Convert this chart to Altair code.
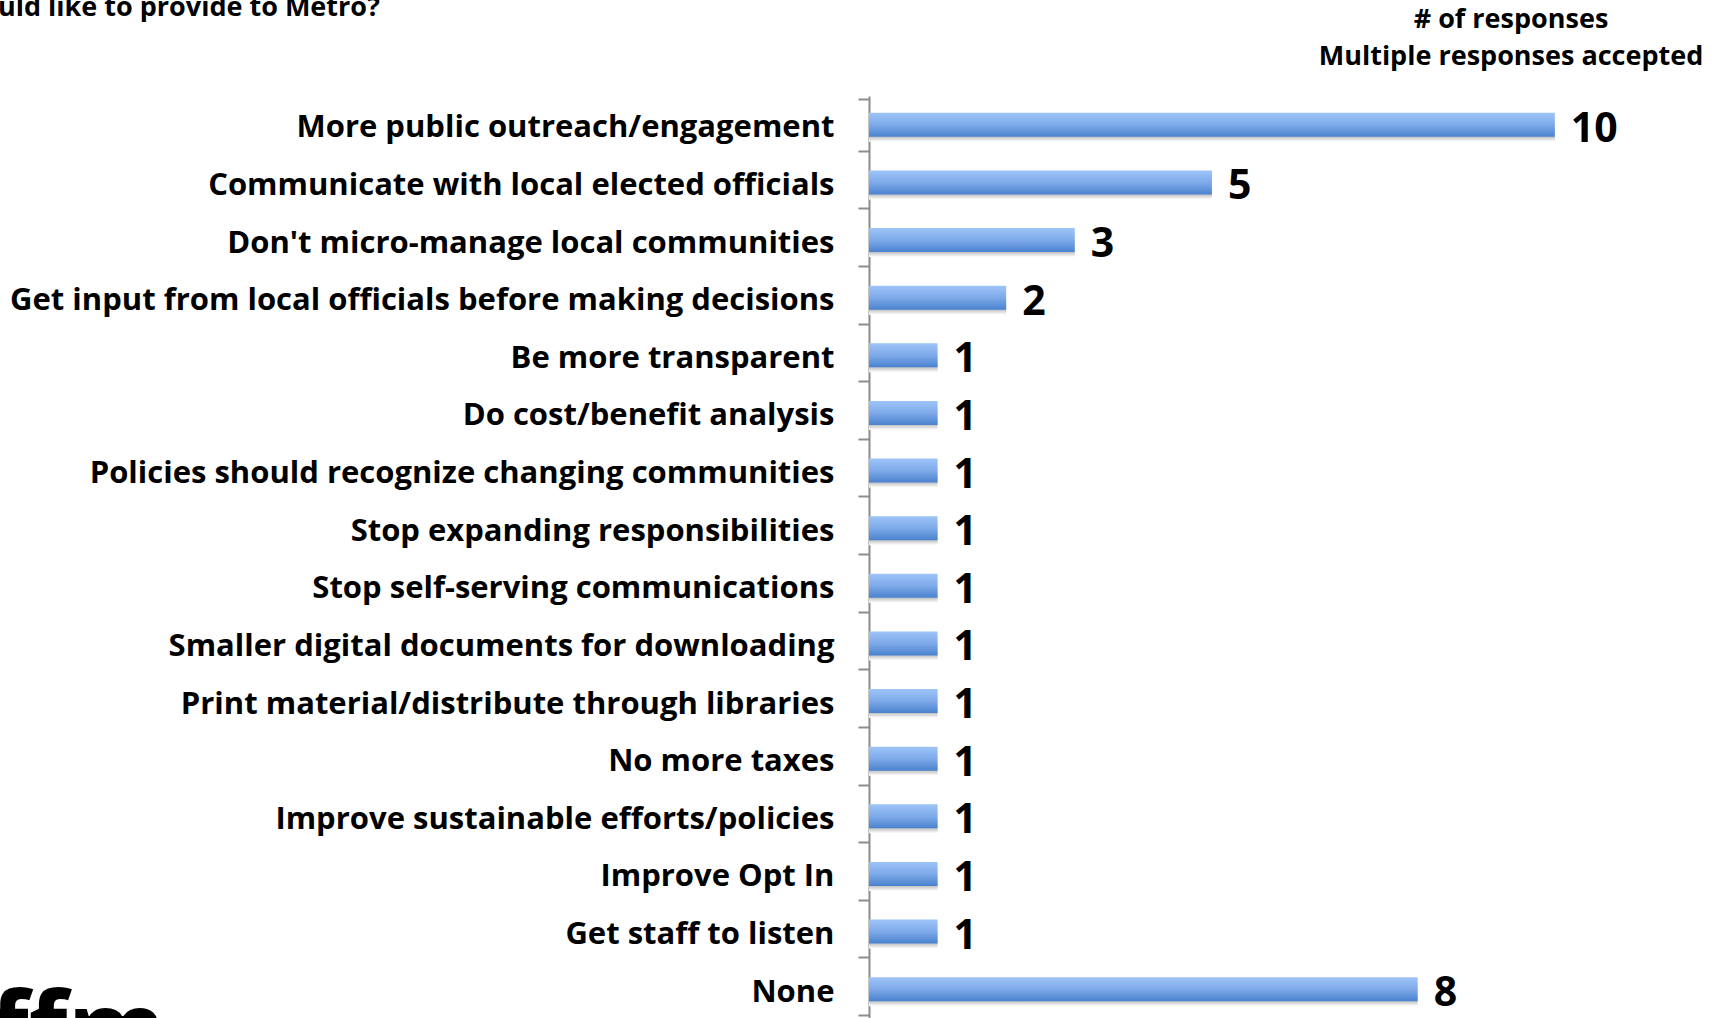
import altair as alt
import pandas as pd

categories = [
    "More public outreach/engagement",
    "Communicate with local elected officials",
    "Don't micro-manage local communities",
    "Get input from local officials before making decisions",
    "Be more transparent",
    "Do cost/benefit analysis",
    "Policies should recognize changing communities",
    "Stop expanding responsibilities",
    "Stop self-serving communications",
    "Smaller digital documents for downloading",
    "Print material/distribute through libraries",
    "No more taxes",
    "Improve sustainable efforts/policies",
    "Improve Opt In",
    "Get staff to listen",
    "None",
]
values = [10, 5, 3, 2, 1, 1, 1, 1, 1, 1, 1, 1, 1, 1, 1, 8]

title_fragment = "uld like to provide to Metro?"
note_lines = ["# of responses", "Multiple responses accepted"]
logo_text = "ffm"

df = pd.DataFrame({"category": categories, "value": values})

FONT = "Open Sans"
LEFT, TOP = 869, 96
W, H = 823, 922

x_enc = alt.X("value:Q", scale=alt.Scale(domain=[0, 12]), axis=None)
y_enc = alt.Y(
    "category:N",
    sort=categories,
    title=None,
    axis=alt.Axis(
        domainColor="#8c8c8c",
        domainWidth=2,
        tickColor="#8c8c8c",
        tickWidth=2,
        tickSize=11,
        tickBand="extent",
        labelFont=FONT,
        labelFontWeight="bold",
        labelFontSize=31,
        labelColor="#000000",
        labelPadding=24,
        labelOffset=3,
        labelLimit=0,
    ),
)

bar_grad = alt.Gradient(
    gradient="linear",
    stops=[
        alt.GradientStop(color="#9ec4f8", offset=0),
        alt.GradientStop(color="#7eaae9", offset=0.5),
        alt.GradientStop(color="#4a82cf", offset=1),
    ],
    x1=0, x2=0, y1=0, y2=1,
)
shadow_grad = alt.Gradient(
    gradient="linear",
    stops=[
        alt.GradientStop(color="#ffffff", offset=0),
        alt.GradientStop(color="#c4c4c4", offset=0.8),
        alt.GradientStop(color="#ffffff", offset=1),
    ],
    x1=0, x2=0, y1=0, y2=1,
)

base = alt.Chart(df)

shadow = base.mark_bar(size=24, yOffset=5, color=shadow_grad).encode(x=x_enc, y=y_enc)
bars = base.mark_bar(size=24, color=bar_grad).encode(x=x_enc, y=y_enc)
labels = base.mark_text(
    align="left", baseline="middle", dx=16, dy=5,
    font=FONT, fontWeight="bold", fontSize=41, color="#000000",
).encode(x=x_enc, y=y_enc, text="value:Q")

title_df = pd.DataFrame({"t": [title_fragment]})
title_mark = alt.Chart(title_df).mark_text(
    align="left", baseline="alphabetic", font=FONT, fontWeight="bold",
    fontSize=27, color="#000000",
).encode(x=alt.value(-LEFT - 2), y=alt.value(16 - TOP), text="t:N")

note_df = pd.DataFrame({"t": note_lines, "yy": [20 - TOP, 57 - TOP]})
note_mark = alt.Chart(note_df).mark_text(
    align="center", baseline="middle", font=FONT, fontWeight="bold",
    fontSize=27, color="#000000",
).encode(x=alt.value(1511 - LEFT), y=alt.Y("yy:Q", scale=None), text="t:N")

logo_df = pd.DataFrame({"t": [logo_text]})
logo_mark = alt.Chart(logo_df).mark_text(
    align="left", baseline="alphabetic", font=FONT, fontWeight="bold",
    fontSize=100, color="#000000",
).encode(x=alt.value(-LEFT - 10), y=alt.value(1064 - TOP), text="t:N")

chart = alt.layer(shadow, bars, labels, title_mark, note_mark, logo_mark).properties(
    width=W,
    height=H,
    background="#ffffff",
    autosize=alt.AutoSizeParams(type="none"),
    padding={"left": LEFT, "top": TOP, "right": 1719 - LEFT - W, "bottom": 0},
).configure_view(stroke=None)

chart.save("out.html", embed_options={"renderer": "svg", "actions": False})
